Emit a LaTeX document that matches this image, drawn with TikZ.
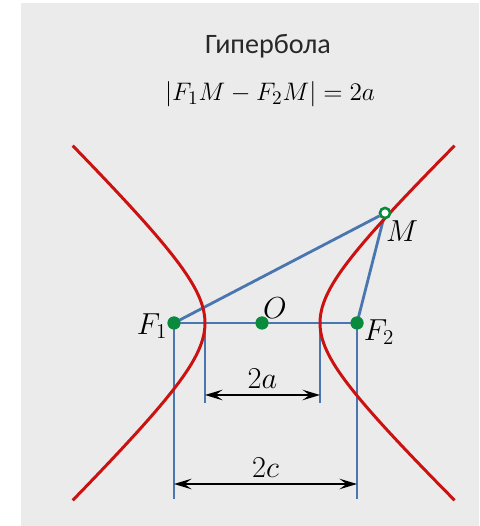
\documentclass[tikz,border=0pt]{standalone}
\usepackage{amsmath}
\usepackage{fontspec}
\newfontfamily\cyrfont{Carlito}
\usetikzlibrary{arrows.meta}
\definecolor{bggray}{RGB}{235,235,235}
\definecolor{hypred}{RGB}{204,17,17}
\definecolor{segblue}{RGB}{74,118,176}
\definecolor{ptgreen}{RGB}{10,138,60}
\definecolor{txtgray}{RGB}{40,40,40}

\begin{document}
\begin{tikzpicture}[x=0.02cm, y=0.02cm,
    branch/.style={hypred, line width=1.7pt},
    seg/.style={segblue, line width=1.6pt},
    pt/.style={circle, fill=ptgreen, inner sep=0pt, minimum size=0.26cm},
    openpt/.style={circle, draw=ptgreen, fill=white, line width=1.4pt, inner sep=0pt, minimum size=0.2cm},
    lbl/.style={font=\fontsize{17}{20}\selectfont},
    dim/.style={{Stealth[length=10pt,width=6pt,inset=4pt]}-{Stealth[length=10pt,width=6pt,inset=4pt]}, line width=1.1pt}
]
\useasboundingbox (-262,-203) rectangle (217,323);
\fill[bggray] (-241,-203) rectangle (217,320);

% title
\node[font=\cyrfont\fontsize{16}{19}\selectfont, text=txtgray] (title) at (6,277) {Гипербола};
\node[font=\fontsize{15}{18}\selectfont] (law) at (8,229) {$|F_1M - F_2M| = 2a$};

% foci, centre, point on curve
\node[pt] (F1) at (-88,0) {};
\node[pt] (O) at (0,0) {};
\node[pt] (F2) at (95,0) {};
\node[openpt] (M) at (123,110) {};
\coordinate (A1) at (-57,0);
\coordinate (A2) at (58,0);

% axis and focal radii
\draw[seg] (F1.center) -- (F2.center);
\draw[seg] (F1.center) -- (M);
\draw[seg] (F2.center) -- (M);

% extension lines
\coordinate (a1) at (-57,-80);
\coordinate (a2) at (58,-80);
\coordinate (c1) at (-88,-176);
\coordinate (c2) at (95,-176);
\draw[seg] (A1) -- (a1);
\draw[seg] (A2) -- (a2);
\draw[seg] (F1.center) -- (c1);
\draw[seg] (F2.center) -- (c2);

% branches
\draw[branch] plot[domain=-1.87:1.87, samples=60, variable=\t] ({-57*cosh(\t)},{56*sinh(\t)});
\draw[branch] plot[domain=-1.87:1.87, samples=60, variable=\t] ({58*cosh(\t)},{56*sinh(\t)});

% points on top
\node[pt] at (F1) {};
\node[pt] at (O) {};
\node[pt] at (F2) {};
\node[openpt] at (M) {};

% labels
\node[lbl] (F1l) at (-110,-3) {$F_1$};
\node[lbl] (F2l) at (117,-9) {$F_2$};
\node[lbl] (Ol) at (13,15) {$O$};
\node[lbl] (Ml) at (140,92) {$M$};

% dimensions
\coordinate (d1) at (-57,-72);
\coordinate (d2) at (58,-72);
\coordinate (e1) at (-88,-161);
\coordinate (e2) at (95,-161);
\draw[dim] (d1) -- node[lbl, above] {$2a$} (d2);
\draw[dim] (e1) -- node[lbl, above] {$2c$} (e2);
\end{tikzpicture}
\end{document}
